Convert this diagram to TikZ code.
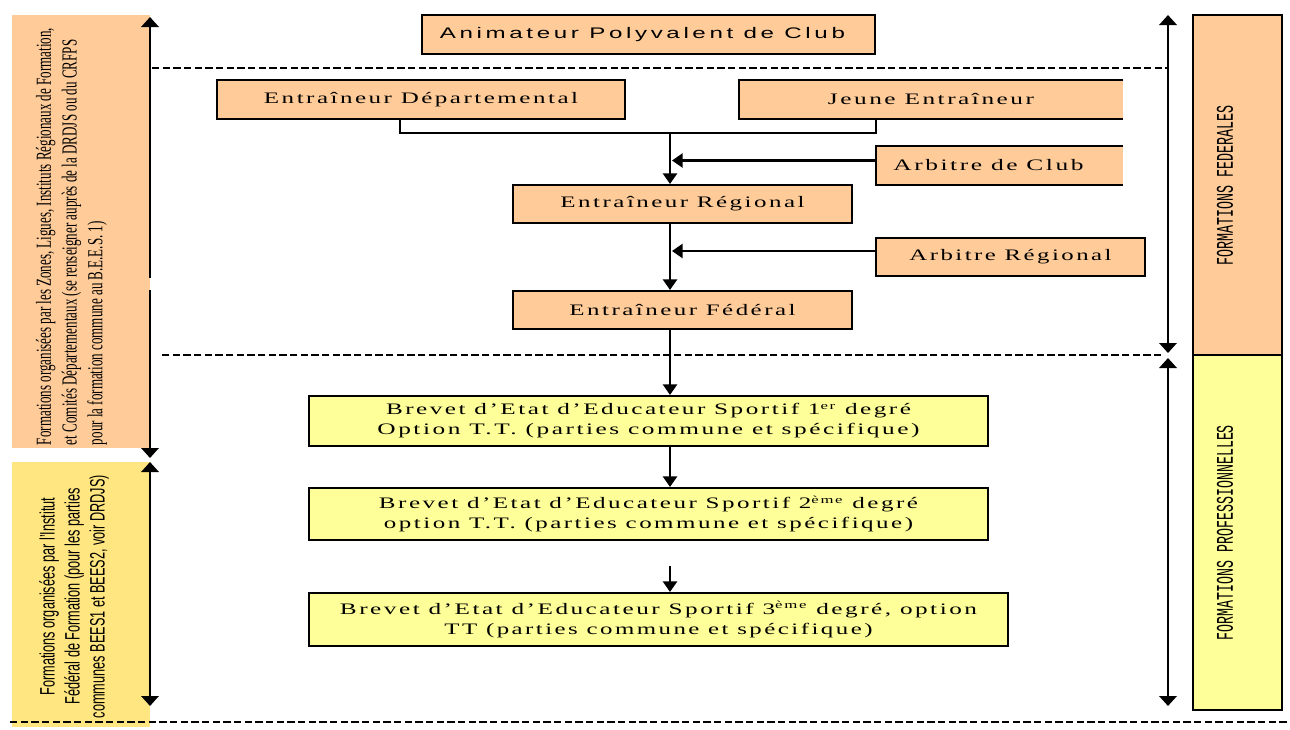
\documentclass[tikz,border=0pt]{standalone}
\usepackage{fontspec}
\setmainfont{Liberation Serif}
\newfontfamily\serifsp[LetterSpace=10]{Liberation Serif}
\newfontfamily\sanssp[LetterSpace=15]{Liberation Sans}
\newfontfamily\sansn{Liberation Sans}
\newfontfamily\monon{Liberation Mono}
\usetikzlibrary{arrows.meta,calc}
\newdimen\px \px=0.75pt
\newcommand\sx[2]{\resizebox{#1\px}{\height}{#2}}
\definecolor{peach}{HTML}{FFCC99}
\definecolor{lyellow}{HTML}{FFFF99}
\definecolor{gold}{HTML}{FFE680}
\tikzset{
  sz/.style 2 args={minimum width=#1*0.75pt, minimum height=#2*0.75pt},
  boxtext/.style={font=\serifsp\fontsize{12}{15}\selectfont},
  obox/.style={draw=black, line width=1.5pt, fill=peach, inner sep=0pt, boxtext},
  obare/.style={fill=peach, inner sep=0pt, boxtext},
  ybox/.style={draw=black, line width=1.5pt, fill=lyellow, inner sep=0pt, align=center, boxtext},
  conn/.style={line width=2pt},
  arr/.style={-{Triangle[width=10.5pt,length=8pt]}},
  sidetip/.style={line width=2pt},
  darr/.style={sidetip, {Triangle[width=13pt,length=7.5pt]}-{Triangle[width=13pt,length=7.5pt]}},
  sep/.style={line width=1.6pt, dash pattern=on 5.5pt off 2.5pt},
  sidebox/.style={draw=black, line width=1.5pt, inner sep=0pt},
  bg/.style={inner sep=0pt}
}
\begin{document}
\begin{tikzpicture}[x=0.75pt,y=-0.75pt]
\useasboundingbox (0,0) rectangle (1290,729);

% left background panels
\node[bg, fill=peach, sz={138}{433}] (lp1) at (81,231.5) {};
\node[bg, fill=gold, sz={138}{265}] (lp2) at (81,594.5) {};
\node[rotate=90, inner sep=0pt] (lt1) at (71.5,236.5) {\resizebox*{417\px}{77\px}{\begin{tabular}{@{}l@{}}Formations organisées par les Zones, Ligues, Instituts Régionaux de Formation,\\et Comités Départementaux (se renseigner auprès de la DRDJS ou du CRFPS\\pour la formation commune au B.E.E.S. 1)\end{tabular}}};
\node[rotate=90, inner sep=0pt] (lt2) at (74.5,596.5) {\resizebox*{243\px}{75\px}{\sansn\begin{tabular}{@{}c@{}}Formations organisées par l’Institut\\Fédéral de Formation (pour les parties\\communes BEES1 et BEES2, voir DRDJS)\end{tabular}}};

% right panels
\node[sidebox, fill=peach, sz={89}{340}] (rp1) at (1237.5,185) {};
\node[sidebox, fill=lyellow, sz={89}{355}] (rp2) at (1237.5,532.5) {};
\node[rotate=90, inner sep=0pt] (rt1) at (1225,185) {\monon\resizebox{160\px}{16\px}{FORMATIONS FEDERALES}};
\node[rotate=90, inner sep=0pt] (rt2) at (1225,532.5) {\monon\resizebox{215\px}{16\px}{FORMATIONS PROFESSIONNELLES}};

% dashed separators
\draw[sep] (152,68) -- (1168,68);
\draw[sep] (162,355) -- (1163,355);
\draw[sep] (10,722) -- (1290,722);

% side arrows
\draw[sidetip, {Triangle[width=13pt,length=7.5pt]}-] (150,17) -- (150,278);
\draw[sidetip, -{Triangle[width=13pt,length=7.5pt]}] (150,290) -- (150,458);
\draw[darr] (150,462) -- (150,706);
\draw[darr] (1168,15) -- (1168,353);
\draw[darr] (1168,358) -- (1168,706);

% boxes
\node[obox, sz={453}{39}, font=\sanssp\fontsize{11.5}{14}\selectfont] (apc) at (648.5,34.5) {\sx{405}{Animateur Polyvalent de Club}\hspace*{12\px}};
\node[obox, sz={408}{39}] (ed) at (421,99.5) {\sx{314}{Entraîneur Départemental}};
\node[obare, sz={384}{39}] (je) at (931,99.5) {\sx{206}{Jeune Entraîneur}};
\draw[line width=1.5pt] (je.north east) -- (je.north west) -- (je.south west) -- (je.south east);
\node[obare, sz={247}{39}] (acl) at (999.5,165.5) {\sx{190}{Arbitre de Club}\hspace*{22\px}};
\draw[line width=1.5pt] (acl.north east) -- (acl.north west) -- (acl.south west) -- (acl.south east);
\node[obox, sz={339}{38}] (er) at (682.5,204) {\sx{244}{Entraîneur Régional}};
\node[obox, sz={269}{38}] (ar) at (1010.5,257) {\sx{202}{Arbitre Régional}};
\node[obox, sz={339}{38}] (ef) at (682.5,310) {\sx{226}{Entraîneur Fédéral}};
\node[ybox, sz={679}{50}] (b1) at (648.5,421) {\sx{525}{Brevet d’Etat d’Educateur Sportif 1\textsuperscript{er} degré}\\\sx{542}{Option T.T. (parties commune et spécifique)}};
\node[ybox, sz={679}{52}] (b2) at (648.5,514) {\sx{539}{Brevet d’Etat d’Educateur Sportif 2\textsuperscript{ème} degré}\\\sx{529}{option T.T. (parties commune et spécifique)}};
\node[ybox, sz={699}{53}] (b3) at (658.5,619.5) {\sx{637}{Brevet d’Etat d’Educateur Sportif 3\textsuperscript{ème} degré, option}\\\sx{428}{TT (parties commune et spécifique)}};

% connectors
\coordinate (sp1) at (670,133);
\coordinate (s3) at (670,566);
\draw[conn] ([xshift=-21*0.75pt]ed.south) |- (sp1) -| ([xshift=-55*0.75pt]je.south);
\draw[conn, arr] (sp1) -- (sp1 |- er.north);
\draw[conn, arr] ([yshift=5*0.75pt]acl.west) -- ([yshift=5*0.75pt,xshift=1.5pt]acl.west -| sp1);
\draw[conn, arr] (sp1 |- er.south) -- (sp1 |- ef.north);
\draw[conn, arr] ([yshift=6*0.75pt]ar.west) -- ([yshift=6*0.75pt,xshift=1.5pt]ar.west -| sp1);
\draw[conn, arr] (sp1 |- ef.south) -- (sp1 |- b1.north);
\draw[conn, arr] (sp1 |- b1.south) -- (sp1 |- b2.north);
\draw[conn, arr] (s3) -- (s3 |- b3.north);
\end{tikzpicture}
\end{document}
